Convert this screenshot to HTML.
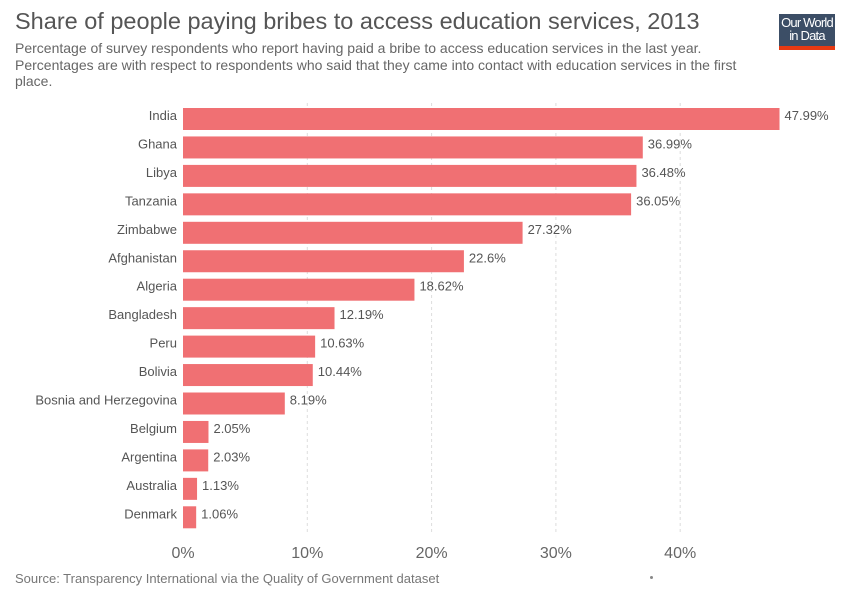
<!DOCTYPE html>
<html><head><meta charset="utf-8"><style>
body{margin:0;background:#fff;font-family:"Liberation Sans",sans-serif;}
#c{position:relative;width:850px;height:600px;overflow:hidden;}
.t{position:absolute;white-space:nowrap;}
</style></head><body>
<div id="c">
<div class="t" style="left:15px;top:8px;font-size:23.5px;color:#555;">Share of people paying bribes to access education services, 2013</div>
<div class="t" style="left:15px;top:40px;font-size:14px;line-height:16.5px;color:#666;white-space:normal;width:750px;">Percentage of survey respondents who report having paid a bribe to access education services in the last year. Percentages are with respect to respondents who said that they came into contact with education services in the first place.</div>
<div style="position:absolute;left:779px;top:14px;width:56px;height:36px;background:#3c4e66;">
<div style="position:absolute;left:0;right:0;top:2px;color:#fff;font-size:13px;line-height:13px;text-align:center;letter-spacing:-0.8px;">Our World<br>in Data</div>
<div style="position:absolute;left:0;right:0;bottom:0;height:4px;background:#e63912;"></div></div>
<svg id="s" width="850" height="600" style="position:absolute;left:0;top:0;"></svg>
<div class="t" style="left:15px;top:571px;font-size:13px;color:#777;">Source: Transparency International via the Quality of Government dataset</div>
<div style="position:absolute;left:650px;top:576px;width:3px;height:3px;border-radius:50%;background:#888;"></div>
</div>
<script>
const countries=["India","Ghana","Libya","Tanzania","Zimbabwe","Afghanistan","Algeria","Bangladesh","Peru","Bolivia","Bosnia and Herzegovina","Belgium","Argentina","Australia","Denmark"];
const values=[47.99,36.99,36.48,36.05,27.32,22.6,18.62,12.19,10.63,10.44,8.19,2.05,2.03,1.13,1.06];
const ticks=[0,10,20,30,40];
const NS="http://www.w3.org/2000/svg";
const s=document.getElementById('s');
const x=v=>183+v*12.43;
const y=i=>108+i*28.45;
function mk(t,a){const e=document.createElementNS(NS,t);for(const k in a)e.setAttribute(k,a[k]);s.appendChild(e);return e;}
ticks.forEach(t=>{
 if(t>0){const l=mk('line',{x1:x(t),x2:x(t),y1:103,y2:533,stroke:'#ddd','stroke-dasharray':'3,3'});
 
 }
 const tx=mk('text',{x:x(t),y:558,'text-anchor':'middle','font-size':'16','fill':'#666'});tx.textContent=t+'%';
 
 
});
countries.forEach((c,i)=>{
 const r=mk('rect',{x:183,y:y(i),width:x(values[i])-183,height:22,fill:'#f07073'});
 
 
 const l=mk('text',{x:177,y:y(i)+12,'text-anchor':'end','font-size':'13','fill':'#555'});l.textContent=c;
 
 
 const v=mk('text',{x:x(values[i])+5,y:y(i)+12,'font-size':'13','fill':'#555'});v.textContent=values[i]+'%';
 
 
});
</script>
</body></html>
